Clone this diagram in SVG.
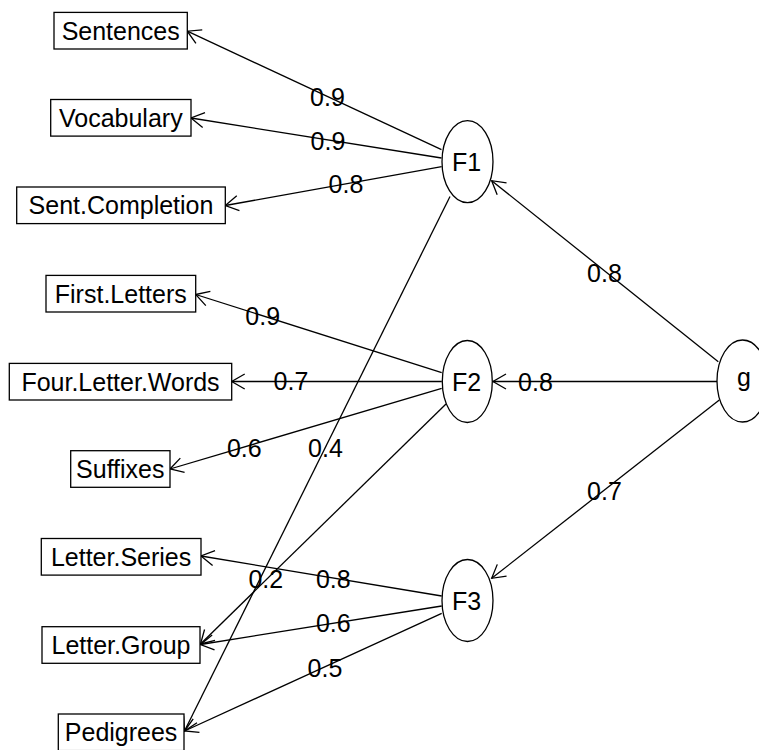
<svg xmlns="http://www.w3.org/2000/svg" width="759" height="750" viewBox="0 0 759 750">
<style>
text{font-family:"Liberation Sans",Arial,sans-serif;font-size:25px;fill:#000;text-anchor:middle}
.box{fill:#fff;stroke:#000;stroke-width:1.3}
.lat{fill:#fff;stroke:#000;stroke-width:1.3}
.edge{fill:none;stroke:#000;stroke-width:1.3;marker-end:url(#arr)}
</style>
<defs>
<marker id="arr" markerUnits="userSpaceOnUse" markerWidth="30" markerHeight="30" viewBox="-15 -15 30 30" refX="0" refY="0" orient="auto" overflow="visible">
<path d="M-13,-7.5 L0,0 L-13,7.5" fill="none" stroke="#000" stroke-width="1.3"/>
</marker>
</defs>
<rect width="759" height="750" fill="#fff"/>
<g id="connectors">
<line class="edge" x1="441.5" y1="149.7" x2="187.3" y2="31.2"/>
<line class="edge" x1="441.5" y1="158" x2="191" y2="118"/>
<line class="edge" x1="441.7" y1="166.7" x2="225.3" y2="205.5"/>
<line class="edge" x1="450" y1="196.5" x2="184.5" y2="731"/>
<line class="edge" x1="441.7" y1="372.7" x2="195.7" y2="294.5"/>
<line class="edge" x1="441.8" y1="381.5" x2="231.7" y2="381.5"/>
<line class="edge" x1="441.7" y1="388.3" x2="170" y2="469"/>
<line class="edge" x1="446" y1="404" x2="200.5" y2="644"/>
<line class="edge" x1="718.3" y1="361.7" x2="491.7" y2="180.7"/>
<line class="edge" x1="717" y1="381.5" x2="493" y2="381.5"/>
<line class="edge" x1="719.3" y1="400" x2="491.7" y2="578.3"/>
<line class="edge" x1="441.7" y1="596" x2="201" y2="556"/>
<line class="edge" x1="441.7" y1="606" x2="200.5" y2="644.5"/>
<line class="edge" x1="441.7" y1="613.3" x2="184.5" y2="731"/>
<text x="327.5" y="105.7">0.9</text>
<text x="328" y="150">0.9</text>
<text x="346" y="193">0.8</text>
<text x="325.5" y="456.5">0.4</text>
<text x="262.7" y="325">0.9</text>
<text x="291" y="390">0.7</text>
<text x="244.3" y="456.5">0.6</text>
<text x="265.8" y="588">0.2</text>
<text x="604.5" y="281.5">0.8</text>
<text x="535.5" y="390.5">0.8</text>
<text x="604.5" y="499.8">0.7</text>
<text x="333.3" y="588">0.8</text>
<text x="333.3" y="632.2">0.6</text>
<text x="325" y="676.5">0.5</text>
</g>
<g id="Sentences"><rect class="box" x="54" y="12.4" width="133.3" height="36.6"/><text x="120.7" y="39.7">Sentences</text></g>
<g id="Vocabulary"><rect class="box" x="50.7" y="99.5" width="140.3" height="36.6"/><text x="120.8" y="126.8">Vocabulary</text></g>
<g id="Sent.Completion"><rect class="box" x="16.7" y="187" width="208.6" height="36.6"/><text x="121" y="214.3">Sent.Completion</text></g>
<g id="First.Letters"><rect class="box" x="46" y="275.4" width="149.7" height="36.6"/><text x="120.8" y="302.7">First.Letters</text></g>
<g id="Four.Letter.Words"><rect class="box" x="9.3" y="363.4" width="222.4" height="36.6"/><text x="120.5" y="390.7">Four.Letter.Words</text></g>
<g id="Suffixes"><rect class="box" x="70.7" y="450.7" width="99.3" height="36.6"/><text x="120.3" y="478">Suffixes</text></g>
<g id="Letter.Series"><rect class="box" x="41.3" y="538.5" width="159.7" height="36.6"/><text x="121.1" y="565.8">Letter.Series</text></g>
<g id="Letter.Group"><rect class="box" x="42" y="626.7" width="158" height="36.6"/><text x="121" y="654">Letter.Group</text></g>
<g id="Pedigrees"><rect class="box" x="58.3" y="714" width="125.7" height="36.6"/><text x="121.1" y="741.3">Pedigrees</text></g>
<g id="F1"><ellipse class="lat" cx="467.5" cy="161.7" rx="25.5" ry="41"/><text x="466.5" y="171">F1</text></g>
<g id="F2"><ellipse class="lat" cx="467.3" cy="381.5" rx="25" ry="41"/><text x="466.5" y="390.7">F2</text></g>
<g id="F3"><ellipse class="lat" cx="467.5" cy="600.5" rx="25.5" ry="41"/><text x="466.5" y="609.7">F3</text></g>
<g id="g"><ellipse class="lat" cx="742.5" cy="381" rx="25.5" ry="41"/><text x="744" y="386.2">g</text></g>
</svg>
